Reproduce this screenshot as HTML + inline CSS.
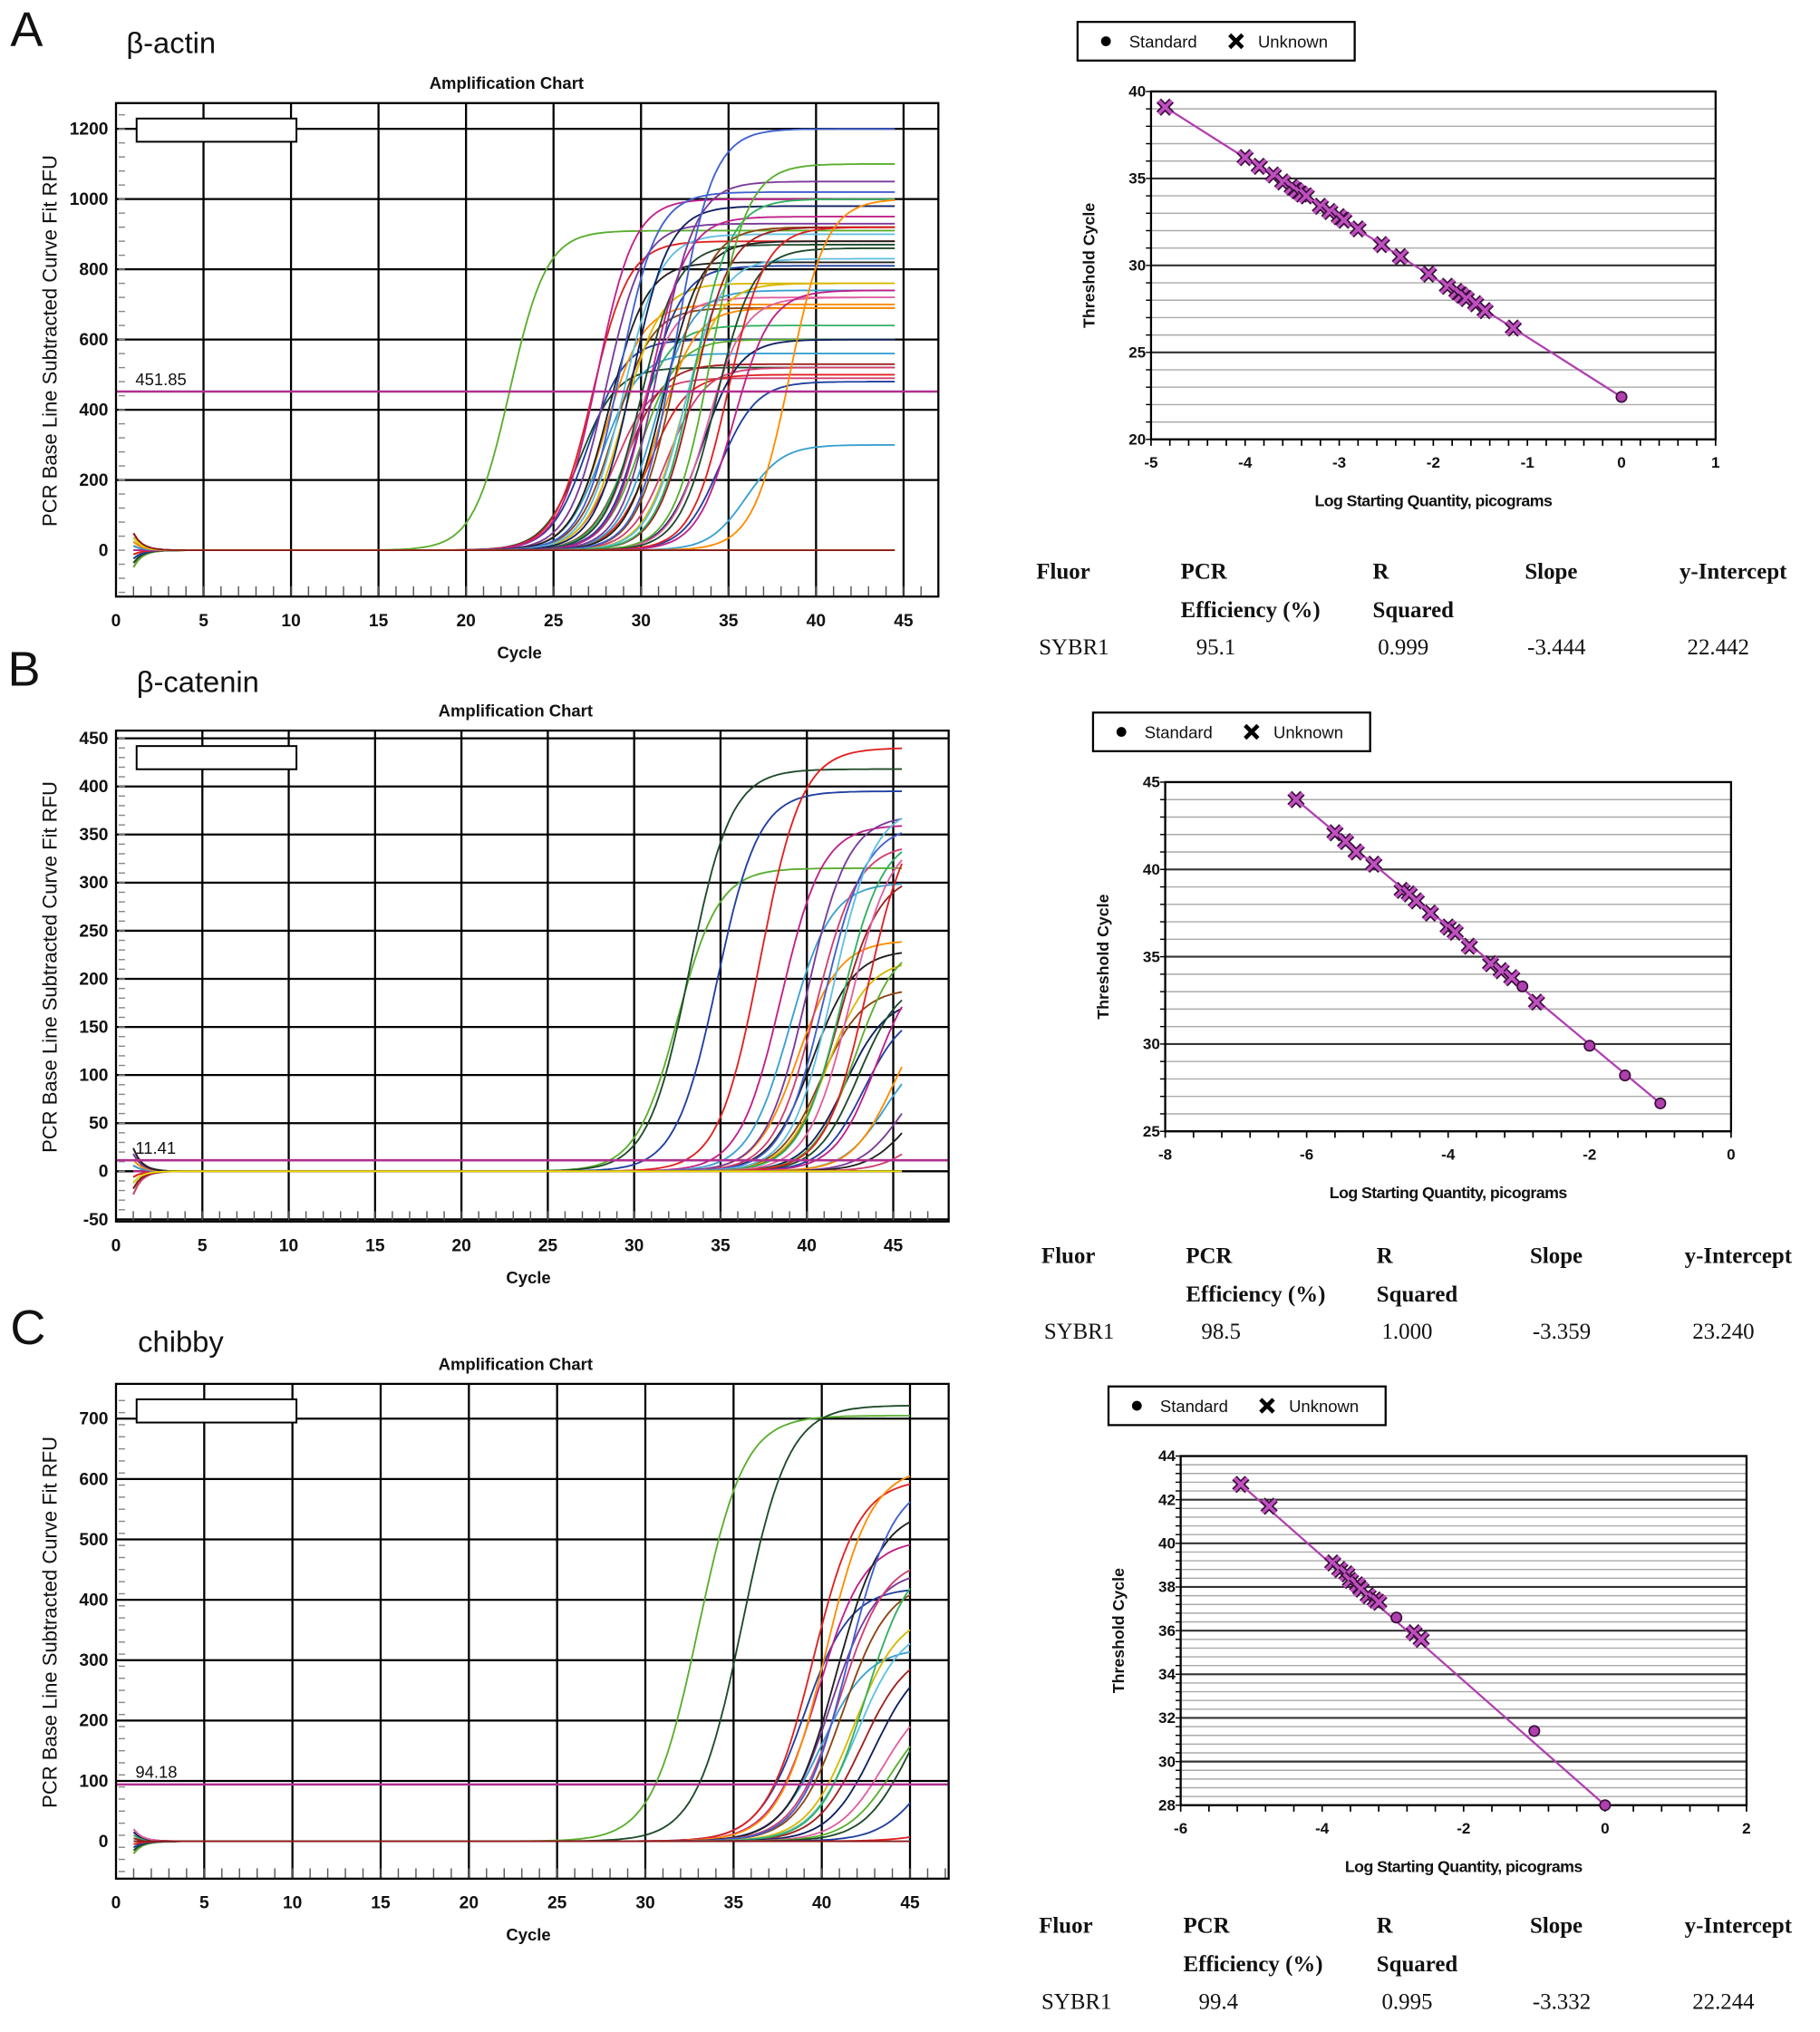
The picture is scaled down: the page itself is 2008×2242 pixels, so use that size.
<!DOCTYPE html>
<html><head><meta charset="utf-8"><style>
html,body{margin:0;padding:0;background:#fff;}
svg{display:block;}
</style></head><body>
<svg id="fig" xmlns="http://www.w3.org/2000/svg" width="2008" height="2242" viewBox="0 0 1412 1577" preserveAspectRatio="none" font-family="Liberation Sans, sans-serif">
<rect x="0" y="0" width="1412" height="1577" fill="#fff"/>
</svg>
<script>
// ---------- data: panel A (beta-actin) ----------
const midsA = [22.5,26.5,27,27.2,27.5,27.8,28,28,28.2,28.5,28.5,28.8,29,29,29.2,29.5,29.5,29.8,30,30,30.2,30.5,30.5,30.8,31,31,31.3,31.5,31.8,32,32.3,32.5,33,33,33.5,33.8,34,34.3,34.5,35,35.3,36,38.5,40,40];
const platsA = [910,520,600,880,1000,560,700,930,820,490,690,1020,760,900,530,640,980,720,600,870,810,500,950,740,690,1050,880,520,920,1200,760,830,920,1000,600,720,1100,860,480,920,740,300,1000,0,0];
const yTicksA = [0,200,400,600,800,1000,1200];
const thresholdA = 451.85;
// ---------- panel B (beta-catenin) ----------
const midsB = [32.5,33.2,34.8,37.3,38.5,39,39.5,40,40.3,40.5,40.8,41,41.2,41.5,41.8,42,42.2,42.5,42.8,43,43.3,43.5,44,44.5,45,45.5,46,47,50,50];
const platsB = [315,418,395,440,360,300,240,370,230,340,190,360,220,380,310,350,180,350,240,200,170,380,220,130,180,120,100,80,0,0];
const yTicksB = [-50,0,50,100,150,200,250,300,350,400,450];
const thresholdB = 11.41;
// ---------- panel C (chibby) ----------
const midsC = [33,35.5,39,39.5,39.8,40,40.2,40.5,40.8,41,41.2,41.5,41.8,42,42.3,42.5,43,43.5,44,45,46,47,50];
const platsC = [705,722,420,600,500,320,620,450,550,470,430,600,380,360,320,480,310,250,230,300,200,40,0];
const yTicksC = [0,100,200,300,400,500,600,700];
const thresholdC = 94.18;
const xTicksAmp = [0,5,10,15,20,25,30,35,40,45];
// ---------- standard curves ----------
const stdAx = [-4.85,-4.0,-3.85,-3.7,-3.6,-3.5,-3.45,-3.4,-3.35,-3.2,-3.1,-3.0,-2.95,-2.8,-2.55,-2.35,-2.05,-1.85,-1.75,-1.7,-1.65,-1.55,-1.45,-1.15];
const stdAy = [39.1,36.2,35.7,35.2,34.8,34.5,34.3,34.1,34.0,33.4,33.1,32.8,32.6,32.1,31.2,30.5,29.5,28.8,28.5,28.3,28.1,27.8,27.4,26.4];
const stdAsx = [0];
const stdAsy = [22.44];
const stdBx = [-6.15,-5.6,-5.45,-5.3,-5.05,-4.65,-4.55,-4.45,-4.25,-4.0,-3.9,-3.7,-3.4,-3.25,-3.1,-2.75];
const stdBy = [44.0,42.1,41.6,41.0,40.3,38.8,38.6,38.2,37.5,36.7,36.4,35.6,34.6,34.2,33.8,32.4];
const stdBsx = [-2.95,-2,-1.5,-1];
const stdBsy = [33.3,29.9,28.2,26.6];
const stdCx = [-5.15,-4.75,-3.85,-3.75,-3.65,-3.6,-3.5,-3.45,-3.35,-3.25,-3.2,-2.7,-2.6];
const stdCy = [42.7,41.7,39.1,38.8,38.6,38.3,38.1,37.9,37.6,37.4,37.3,35.9,35.6];
const stdCsx = [-2.95,-1,0];
const stdCsy = [36.6,31.4,28.0];

const palette = ['#5aae2e','#1e4a2a','#1f3fa0','#e02020','#c0208a','#3aa0d0','#ff8c00','#7a3a9a','#202020','#d04070','#8b4513','#4060d0','#d8b800','#60c0e0','#a02020','#30b060','#102060','#e060a0'];

const NS='http://www.w3.org/2000/svg';
const svg=document.getElementById('fig');
function mk(tag,attrs,parent){const e=document.createElementNS(NS,tag);for(const k in attrs)e.setAttribute(k,attrs[k]);(parent||svg).appendChild(e);return e;}
function txt(s,attrs,parent){const e=mk('text',attrs,parent);e.textContent=s;return e;}

function amp(cfg){
  const g=mk('g',{});
  
  
  const {x0,x1,y0,y1,cx0,cx45,v0,vTop,vTopY,ymin}=cfg;
  const sx=c=>cx0+(cx45-cx0)*c/45;
  const sy=v=>v0+(vTopY-v0)*v/vTop;
  cfg.yTicks.forEach(t=>{const y=sy(t);
    if(t>cfg.yTicks[0]||cfg.gridFirst) mk('line',{x1:x0,x2:x1,y1:y,y2:y,stroke:'#000','stroke-width':1.6},g);
    const tl=txt(String(t),{x:x0-6,y:y+4.5,'font-size':13.5,'text-anchor':'end',fill:'#111','font-weight':'600'},g);
    
    
  });
  xTicksAmp.forEach(t=>{const x=sx(t);
    if(t>0) mk('line',{x1:x,x2:x,y1:y0,y2:y1,stroke:'#000','stroke-width':1.6},g);
    const tl=txt(String(t),{x:x,y:y1+23,'font-size':13.5,'text-anchor':'middle',fill:'#111','font-weight':'600'},g);
    
    
  });
  for(let c=1;c<=47;c++){const x=sx(c);if(x<x1-2)mk('line',{x1:x,x2:x,y1:y1-8,y2:y1,stroke:'#555','stroke-width':1},g);}
  const step=(cfg.yTicks[1]-cfg.yTicks[0])/5;
  for(let v=ymin;v<=vTop*1.06;v+=step){const y=sy(v);if(y>y0+3&&y<y1-3)mk('line',{x1:x0+2,x2:x0+7,y1:y,y2:y,stroke:'#888','stroke-width':1},g);}
  const ty=sy(cfg.thr);
  cfg.mids.forEach((m,i)=>{
    const P=cfg.plats[i];let d='';
    for(let c=1;c<=cfg.cEnd;c+=0.25){
      let v=P/(1+Math.exp(-(c-m)/cfg.s));
      const st=((i*37)%9-4)*cfg.noise;
      v+=st*Math.exp(-(c-1)/0.5);
      d+=(d?'L':'M')+sx(c).toFixed(1)+','+sy(v).toFixed(1);
    }
    const p=mk('path',{d:d,fill:'none',stroke:P===0?(i%2?'#e8e000':'#8b1a1a'):palette[i%palette.length],'stroke-width':1.3},g);
    
    
  });
  const tl=mk('line',{x1:x0,x2:x1,y1:ty,y2:ty,stroke:'#b03090','stroke-width':1.8},g);
  
  
  const tt=txt(cfg.thrLabel,{x:x0+15,y:ty-5,'font-size':13,fill:'#111'},g);
  
  
  mk('rect',{x:x0,y:y0,width:x1-x0,height:y1-y0,fill:'none',stroke:'#000','stroke-width':1.6},g);
  const lb=mk('rect',{x:x0+16,y:y0+12,width:124,height:18,fill:'#fff',stroke:'#000','stroke-width':1.4},g);
  
  
  const t1=txt('Amplification Chart',{x:cfg.titleX,y:y0-11,'font-size':13,'text-anchor':'middle',fill:'#111','font-weight':'600'},g);
  
  
  const t2=txt('Cycle',{x:cfg.titleX+10,y:y1+48,'font-size':13,'text-anchor':'middle',fill:'#111','font-weight':'600'},g);
  
  
  const ym=(y0+y1)/2;
  const t3=txt('PCR Base Line Subtracted Curve Fit RFU',{x:0,y:0,'font-size':15.5,'text-anchor':'middle',fill:'#111',transform:`translate(44,${ym-7}) rotate(-90)`},g);
  
  
}

amp({name:'amplification-chart-a',x0:90,x1:728,y0:80,y1:463,cx0:90,cx45:701,v0:427,vTop:1200,vTopY:100,ymin:-120,yTicks:yTicksA,mids:midsA,plats:platsA,s:1.05,cEnd:44.5,noise:12,thr:thresholdA,thrLabel:'451.85',titleX:393});
amp({name:'amplification-chart-b',x0:90,x1:736,y0:567,y1:948,cx0:90,cx45:693,v0:909,vTop:450,vTopY:573,ymin:-50,yTicks:yTicksB,mids:midsB,plats:platsB,s:1.2,cEnd:45.5,noise:6,thr:thresholdB,thrLabel:'11.41',titleX:400,gridFirst:true});
amp({name:'amplification-chart-c',x0:90,x1:736,y0:1074,y1:1458,cx0:90,cx45:706,v0:1429,vTop:700,vTopY:1101,ymin:-50,yTicks:yTicksC,mids:midsC,plats:platsC,s:1.3,cEnd:45,noise:5,thr:thresholdC,thrLabel:'94.18',titleX:400});

function std(cfg){
  const g=mk('g',{});
  
  
  const {x0,x1,y0,y1,xmin,xmax,ymin,ymax}=cfg;
  const sx=v=>x0+(x1-x0)*(v-xmin)/(xmax-xmin);
  const sy=v=>y1-(y1-y0)*(v-ymin)/(ymax-ymin);
  for(let v=ymin;v<=ymax+1e-6;v+=cfg.minor){const y=sy(v);
    mk('line',{x1:x0,x2:x1,y1:y,y2:y,stroke:'#aaa','stroke-width':1},g);
    mk('line',{x1:x0-4,x2:x0,y1:y,y2:y,stroke:'#000','stroke-width':1},g);}
  cfg.yTicks.forEach(t=>{const y=sy(t);
    mk('line',{x1:x0,x2:x1,y1:y,y2:y,stroke:'#333','stroke-width':1.5},g);
    const l=txt(String(t),{x:x0-4,y:y+4,'font-size':12,'text-anchor':'end',fill:'#111','font-weight':'bold'},g);
    
    });
  for(let v=xmin;v<=xmax+1e-6;v+=cfg.xminor){const x=sx(v);mk('line',{x1:x,x2:x,y1:y1,y2:y1+5,stroke:'#000','stroke-width':1.2},g);}
  cfg.xTicks.forEach(t=>{const x=sx(t);
    const l=txt(String(t),{x:x,y:y1+22,'font-size':12,'text-anchor':'middle',fill:'#111','font-weight':'bold'},g);
    
    });
  mk('rect',{x:x0,y:y0,width:x1-x0,height:y1-y0,fill:'none',stroke:'#000','stroke-width':1.6},g);
  const fl=mk('line',{x1:sx(cfg.ux[0]),y1:sy(cfg.uy[0]),x2:sx(cfg.sx[cfg.sx.length-1]),y2:sy(cfg.sy[cfg.sy.length-1]),stroke:'#b040b0','stroke-width':1.6},g);
  
  
  cfg.ux.forEach((v,i)=>{const x=sx(v),y=sy(cfg.uy[i]),r=5;
    const m=mk('g',{},g);
    
    
    mk('path',{d:`M${x-r},${y-r}L${x+r},${y+r}M${x-r},${y+r}L${x+r},${y-r}`,stroke:'#3a103a','stroke-width':5},m);
    mk('path',{d:`M${x-r},${y-r}L${x+r},${y+r}M${x-r},${y+r}L${x+r},${y-r}`,stroke:'#c050c0','stroke-width':2.6},m);});
  cfg.sx.forEach((v,i)=>{
    const c=mk('circle',{cx:sx(v),cy:sy(cfg.sy[i]),r:4,fill:'#b040b0',stroke:'#3a103a','stroke-width':1.2},g);
    
    });
  const xl=txt('Log Starting Quantity, picograms',{x:(x0+x1)/2,y:y1+52,'font-size':12.5,'text-anchor':'middle',fill:'#111','letter-spacing':'-0.4','font-weight':'600'},g);
  
  
  const yl=txt('Threshold Cycle',{x:0,y:0,'font-size':12.5,'text-anchor':'middle',fill:'#111','font-weight':'600',transform:`translate(${x0-44},${(y0+y1)/2}) rotate(-90)`},g);
  
  
  const L=cfg.leg;
  const lg=mk('g',{},g);
  
  
  mk('rect',{x:L[0],y:L[1],width:215,height:30,fill:'#fff',stroke:'#000','stroke-width':1.6},lg);
  mk('circle',{cx:L[0]+22,cy:L[1]+15,r:3.8,fill:'#000'},lg);
  const s1=txt('Standard',{x:L[0]+40,y:L[1]+20,'font-size':13,fill:'#111'},lg);
  
  
  const xx=L[0]+123,yy=L[1]+15;
  mk('path',{d:`M${xx-5},${yy-5}L${xx+5},${yy+5}M${xx-5},${yy+5}L${xx+5},${yy-5}`,stroke:'#000','stroke-width':3.2},lg);
  const s2=txt('Unknown',{x:L[0]+140,y:L[1]+20,'font-size':13,fill:'#111'},lg);
  
  
  const T=cfg.tab, cols=T.cols;
  const tg=mk('g',{'font-family':'Liberation Serif, serif','font-size':17.5,fill:'#111'},g);
  
  
  [['Fluor','PCR','R','Slope','y-Intercept'],['','Efficiency (%)','Squared','','']].forEach((row,ri)=>{
    row.forEach((s,ci)=>{if(s){const t=txt(s,{x:cols[ci],y:T.y+ri*30,'font-weight':'bold'},tg);
      
      }});});
  const vx=[cols[0]+2,cols[1]+12,cols[2]+4,cols[3]+2,cols[4]+6];
  T.vals.forEach((s,ci)=>{const t=txt(s,{x:vx[ci],y:T.y+59},tg);
    
    });
}

std({name:'standard-curve-a',x0:893,x1:1331,y0:71,y1:341,xmin:-5,xmax:1,ymin:20,ymax:40,minor:1,xminor:0.2,yTicks:[20,25,30,35,40],xTicks:[-5,-4,-3,-2,-1,0,1],ux:stdAx,uy:stdAy,sx:stdAsx,sy:stdAsy,leg:[836,17],tab:{y:449,cols:[804,916,1065,1183,1303],vals:['SYBR1','95.1','0.999','-3.444','22.442']}});
std({name:'standard-curve-b',x0:904,x1:1343,y0:607,y1:878,xmin:-8,xmax:0,ymin:25,ymax:45,minor:1,xminor:0.4,yTicks:[25,30,35,40,45],xTicks:[-8,-6,-4,-2,0],ux:stdBx,uy:stdBy,sx:stdBsx,sy:stdBsy,leg:[848,553],tab:{y:980,cols:[808,920,1068,1187,1307],vals:['SYBR1','98.5','1.000','-3.359','23.240']}});
std({name:'standard-curve-c',x0:916,x1:1355,y0:1130,y1:1401,xmin:-6,xmax:2,ymin:28,ymax:44,minor:0.4,xminor:0.4,yTicks:[28,30,32,34,36,38,40,42,44],xTicks:[-6,-4,-2,0,2],ux:stdCx,uy:stdCy,sx:stdCsx,sy:stdCsy,leg:[860,1076],tab:{y:1500,cols:[806,918,1068,1187,1307],vals:['SYBR1','99.4','0.995','-3.332','22.244']}});

[['A',8,36,'panel-label-a'],['B',6,532,'panel-label-b'],['C',8,1043,'panel-label-c']].forEach(a=>{
  const t=txt(a[0],{x:a[1],y:a[2],'font-size':38,fill:'#111'});
  
  });
[['β-actin',98,41,'gene-title-a'],['β-catenin',106,537,'gene-title-b'],['chibby',107,1049,'gene-title-c']].forEach(a=>{
  const t=txt(a[0],{x:a[1],y:a[2],'font-size':23,fill:'#111'});
  
  });
</script>
</body></html>
